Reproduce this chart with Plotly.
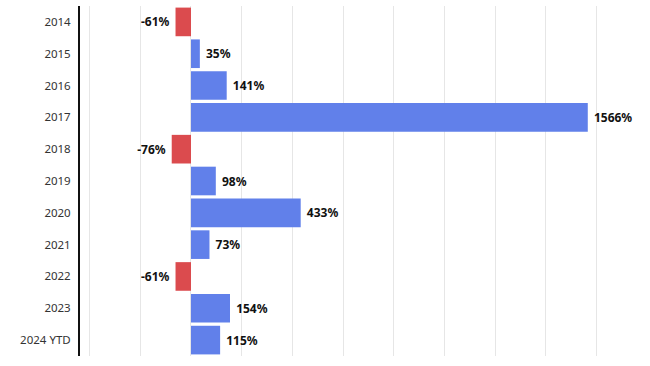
import plotly.graph_objects as go

years = ["2014", "2015", "2016", "2017", "2018", "2019", "2020", "2021", "2022", "2023", "2024 YTD"]
returns = [-61, 35, 141, 1566, -76, 98, 433, 73, -61, 154, 115]
labels = [f" {v}%" if v >= 0 else f"{v}% " for v in returns]
colors = ["#DB4B4E" if v < 0 else "#6180EA" for v in returns]

fig = go.Figure(go.Bar(
    x=returns, y=years, orientation="h",
    marker=dict(color=colors, line=dict(width=0)),
    text=labels, textposition="outside", cliponaxis=False,
    textfont=dict(family="Noto Sans", size=12, color="#111111", weight="bold"),
    hoverinfo="skip",
))
fig.update_layout(
    width=650, height=366,
    margin=dict(l=80, r=8, t=6, b=10),
    plot_bgcolor="white", paper_bgcolor="white",
    bargap=0.1, showlegend=False,
    xaxis=dict(range=[-438, 1780], tick0=0, dtick=200, showticklabels=False,
               showgrid=True, gridcolor="#E6E6E6", gridwidth=1,
               zeroline=True, zerolinecolor="#E6E6E6", zerolinewidth=1, automargin=False),
    yaxis=dict(autorange="reversed", showline=True, linecolor="#111111", linewidth=2,
               ticks="", ticklabelstandoff=5, automargin=False,
               tickfont=dict(family="Noto Sans", size=11.5, color="#333333")),
)
fig.write_html("out.html", config={"displayModeBar": False},
               post_script="document.body.style.margin='0';")
